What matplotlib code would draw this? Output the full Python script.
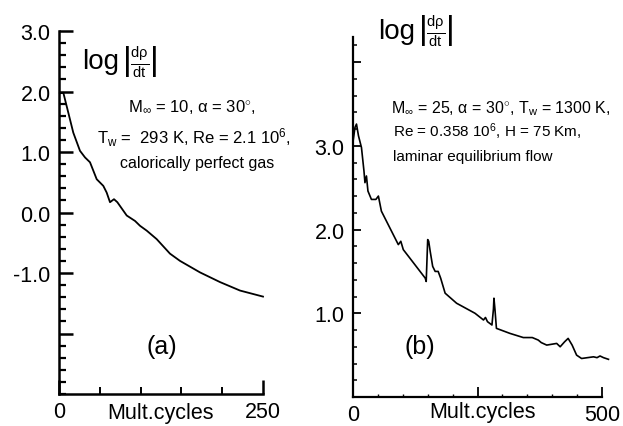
import numpy as np
import matplotlib
matplotlib.use("Agg")
import matplotlib.pyplot as plt
from matplotlib.ticker import MultipleLocator, FixedLocator
import matplotlib.transforms as mtrans

plt.rcParams['font.family'] = ['Liberation Sans', 'DejaVu Sans']
plt.rcParams['mathtext.fontset'] = 'custom'
plt.rcParams['mathtext.rm'] = 'Liberation Sans'
plt.rcParams['mathtext.it'] = 'Liberation Sans'
plt.rcParams['mathtext.bf'] = 'Liberation Sans:bold'

## panel (a): Mach 10, perfect gas, 250 multigrid cycles
a_cycles = [1, 5.3, 11.4, 17.5, 25.7, 31.9, 38, 46.2, 54.3, 58.4, 62.5, 67.4, 71.5,
            83, 93.2, 99.3, 107.5, 119.7, 136, 148.3, 172.8, 197.3, 221.8, 250]
a_logres = [1.97, 1.98, 1.65, 1.32, 1.02, 0.91, 0.83, 0.55, 0.44, 0.33, 0.17, 0.22, 0.17,
            -0.05, -0.14, -0.22, -0.30, -0.44, -0.68, -0.80, -0.99, -1.15, -1.29, -1.39]

## panel (b): Mach 25, equilibrium flow, 500 multigrid cycles
b_cycles = [0, 4, 7, 11, 17, 22, 24, 27, 30, 37, 46, 51, 57, 74, 91, 96, 101, 114, 145,
            147, 150, 152, 155, 160, 165, 171, 176, 185, 208, 245, 262, 266, 270, 279,
            282, 283, 285, 288, 315, 342, 360, 372, 378, 389, 409, 416, 425, 432, 440,
            449, 459, 483, 490, 496, 503, 513]
b_logres = [3.05, 3.22, 3.26, 3.12, 2.98, 2.70, 2.56, 2.64, 2.46, 2.36, 2.36, 2.40, 2.22,
            2.02, 1.82, 1.86, 1.76, 1.66, 1.42, 1.38, 1.88, 1.86, 1.74, 1.56, 1.50, 1.50,
            1.42, 1.24, 1.12, 1.00, 0.92, 0.95, 0.90, 0.86, 1.05, 1.18, 1.05, 0.82, 0.76,
            0.71, 0.71, 0.68, 0.65, 0.62, 0.64, 0.60, 0.66, 0.70, 0.62, 0.50, 0.46, 0.48,
            0.47, 0.49, 0.47, 0.45]

a_yticks = [-2, -1, 0, 1, 2, 3]
a_ylabels = ['', '-1.0', '0.0', '1.0', '2.0', '3.0']
b_yticks = [0, 1, 2, 3, 4]
b_ylabels = ['', '1.0', '2.0', '3.0', '']

frac = r'$\left|\frac{\mathrm{d}\rho}{\mathrm{dt}}\right|$'

fig = plt.figure(figsize=(6.23, 4.27), dpi=100)
axa = fig.add_axes([59/623, 1-395/427, 204/623, 363/427])
axb = fig.add_axes([353/623, 1-398/427, 249/623, 360/427])

for ax in (axa, axb):
    ax.spines['top'].set_visible(False)
    ax.spines['right'].set_visible(False)
    ax.patch.set_alpha(0)

## (a)
axa.plot(a_cycles, a_logres, color='black', lw=1.3, clip_on=False)
axa.set_xlim(0, 250)
axa.set_ylim(-3, 3)
axa.spines['left'].set_linewidth(1.8)
axa.spines['bottom'].set_linewidth(1.8)
axa.yaxis.set_major_locator(FixedLocator(a_yticks))
axa.set_yticklabels(a_ylabels)
axa.yaxis.set_minor_locator(MultipleLocator(0.2))
axa.xaxis.set_major_locator(FixedLocator([0, 250]))
axa.set_xticklabels(['0', '250'])
axa.xaxis.set_minor_locator(FixedLocator([50, 100, 150, 200]))
axa.tick_params(axis='y', which='major', direction='in', length=10, width=1.8, pad=6, labelsize=15.5)
axa.tick_params(axis='y', which='minor', direction='in', length=5, width=1.6)
axa.tick_params(axis='x', which='major', direction='in', length=10, width=1.8, pad=5, labelsize=15.5)
axa.tick_params(axis='x', which='minor', direction='in', length=5, width=1.4)
axa.text(23/204, 1-(62-32)/363, 'log', transform=axa.transAxes, fontsize=20,
         ha='left', va='center')
axa.text(63/204, 1-(61-32)/363, frac, transform=axa.transAxes, fontsize=15,
         ha='left', va='center')
axa.text(124, -0.05, 'Mult.cycles', transform=mtrans.blended_transform_factory(axa.transData, axa.transAxes),
         fontsize=15.5, ha='center', va='center')
axa.text(163, 1.76, r'M$_{\infty}$ = 10, $\alpha$ = 30$^{\circ}$,', fontsize=12, ha='center', va='center')
axa.text(165, 1.26, r'T$_\mathrm{w}$ =  293 K, Re = 2.1 10$^{6}$,', fontsize=12, ha='center', va='center',
         clip_on=False)
axa.text(169, 0.82, 'calorically perfect gas', fontsize=11.5, ha='center', va='center')
axa.text(126, -2.21, '(a)', fontsize=18, ha='center', va='center')

## (b)
axb.plot(b_cycles, b_logres, color='black', lw=1.2, clip_on=False)
axb.set_xlim(0, 500)
axb.set_ylim(0, 4.3)
axb.spines['left'].set_linewidth(1.6)
axb.spines['bottom'].set_linewidth(1.6)
axb.yaxis.set_major_locator(FixedLocator(b_yticks))
axb.set_yticklabels(b_ylabels)
axb.yaxis.set_minor_locator(MultipleLocator(0.2))
axb.xaxis.set_major_locator(FixedLocator([0, 250, 500]))
axb.set_xticklabels(['0', '', '500'])
axb.xaxis.set_minor_locator(MultipleLocator(50))
axb.tick_params(axis='y', which='major', direction='in', length=6, width=1.3, pad=6, labelsize=15.5)
axb.tick_params(axis='y', which='minor', direction='in', length=3, width=1.1)
axb.tick_params(axis='x', which='major', direction='in', length=7, width=1.3, pad=5, labelsize=15.5)
axb.tick_params(axis='x', which='minor', direction='in', length=2.5, width=1.0)
axb.text(25/249, 1-(32-38)/360, 'log', transform=axb.transAxes, fontsize=20,
         ha='left', va='center', clip_on=False)
axb.text(65/249, 1-(31-38)/360, frac, transform=axb.transAxes, fontsize=15,
         ha='left', va='center', clip_on=False)
axb.text(260, -0.04, 'Mult.cycles', transform=mtrans.blended_transform_factory(axb.transData, axb.transAxes),
         fontsize=15.5, ha='center', va='center')
axb.text(77, 3.46, r'M$_{\infty}$ = 25, $\alpha$ = 30$^{\circ}$, T$_\mathrm{w}$ = 1300 K,', fontsize=11.5,
         ha='left', va='center', clip_on=False)
axb.text(80, 3.18, r'Re = 0.358 10$^{6}$, H = 75 Km,', fontsize=11, ha='left', va='center')
axb.text(80, 2.88, 'laminar equilibrium flow', fontsize=11, ha='left', va='center')
axb.text(135, 0.61, '(b)', fontsize=18, ha='center', va='center')

fig.savefig('out.png', dpi=100)
